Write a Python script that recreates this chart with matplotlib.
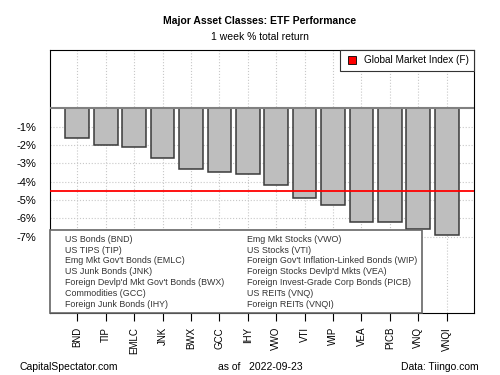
import matplotlib
matplotlib.use('Agg')
import matplotlib.pyplot as plt
from matplotlib.lines import Line2D
from matplotlib.patches import Patch

plt.rcParams['font.family'] = ['Liberation Sans', 'DejaVu Sans']

# weekly % total return
tickers = ['BND', 'TIP', 'EMLC', 'JNK', 'BWX', 'GCC', 'IHY',
           'VWO', 'VTI', 'WIP', 'VEA', 'PICB', 'VNQ', 'VNQI']
returns = [-1.6, -2.0, -2.1, -2.7, -3.3, -3.5, -3.6,
           -4.2, -4.9, -5.3, -6.2, -6.2, -6.6, -6.9]
names = ['US Bonds (BND)', 'US TIPS (TIP)', 'Emg Mkt Gov\'t Bonds (EMLC)',
         'US Junk Bonds (JNK)', 'Foreign Devlp\'d Mkt Gov\'t Bonds (BWX)',
         'Commodities (GCC)', 'Foreign Junk Bonds (IHY)',
         'Emg Mkt Stocks (VWO)', 'US Stocks (VTI)',
         'Foreign Gov\'t Inflation-Linked Bonds (WIP)',
         'Foreign Stocks Devlp\'d Mkts (VEA)',
         'Foreign Invest-Grade Corp Bonds (PICB)',
         'US REITs (VNQ)', 'Foreign REITs (VNQI)']
gmi = -4.5
yticks = [-1, -2, -3, -4, -5, -6, -7]

fig = plt.figure(figsize=(5, 3.75), dpi=100)
ax = fig.add_axes([0.1, 0.1653, 0.848, 0.7014])

xpos = [0.7 + 1.2 * i for i in range(len(tickers))]
ax.set_xlim(-0.45, 17.45)
ax.set_ylim(-11.17, 3.18)

for x in xpos:
    ax.axvline(x, color='#c8c8c8', ls=':', lw=0.8, zorder=0)
for y in yticks:
    ax.axhline(y, color='#c8c8c8', ls=':', lw=0.8, zorder=0)

ax.bar(xpos, returns, width=1.0, color='#bebebe', edgecolor='#3a3a3a', lw=1.1, zorder=2)
ax.axhline(0, color='#808080', lw=1.5, zorder=3)
ax.axhline(gmi, color='red', lw=1.3, zorder=4)

ax.set_yticks(yticks)
ax.set_yticklabels(['%d%%' % v for v in yticks], fontsize=8)
ax.tick_params(axis='y', length=0, pad=10)
ax.set_xticks(xpos)
ax.set_xticklabels(tickers, rotation=90, fontsize=7)
ax.tick_params(axis='x', length=6, direction='out', pad=4)

leg1 = ax.legend(handles=[Line2D([], [], marker='s', ls='', markersize=6,
                                 markerfacecolor='red', markeredgecolor='black', markeredgewidth=0.6)],
                 labels=['Global Market Index (F)'], loc='upper right', fontsize=7.2,
                 borderaxespad=0, fancybox=False, framealpha=1, edgecolor='#333333',
                 handlelength=1.2, handletextpad=0.6, borderpad=0.55)
leg1.get_frame().set_linewidth(0.8)
leg1.set_zorder(6)
ax.add_artist(leg1)

empty = [Patch(visible=False) for _ in names]
leg2 = ax.legend(handles=empty, labels=names, ncol=2, loc='lower left',
                 bbox_to_anchor=(0, 0, 0.877, 0.327), mode='expand', borderaxespad=0,
                 fontsize=6.4, handlelength=1.0, handletextpad=0.2, labelspacing=0.2,
                 fancybox=False, framealpha=1, edgecolor='#666666', borderpad=0.5,
                 columnspacing=1.0, labelcolor='#333333')
leg2.get_frame().set_linewidth(1.2)
leg2.set_zorder(5)

fig.text(0.52, 0.945, 'Major Asset Classes: ETF Performance', ha='center', va='center',
         fontsize=7.5, fontweight='bold')
fig.text(0.52, 0.9, '1 week % total return', ha='center', va='center', fontsize=7.5)
fig.text(0.04, 0.022, 'CapitalSpectator.com', ha='left', va='center', fontsize=7.5)
fig.text(0.52, 0.022, 'as of   2022-09-23', ha='center', va='center', fontsize=7.5)
fig.text(0.957, 0.022, 'Data: Tiingo.com', ha='right', va='center', fontsize=7.5)

fig.savefig('out.png', dpi=100)
